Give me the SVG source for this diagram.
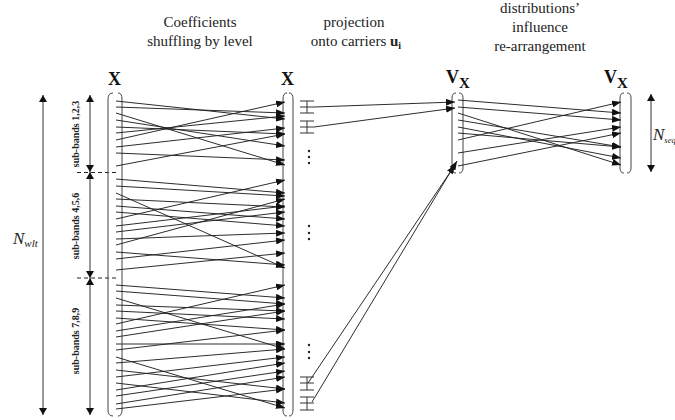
<svg xmlns="http://www.w3.org/2000/svg" width="675" height="420" viewBox="0 0 675 420">
<defs>
<marker id="ah" markerUnits="userSpaceOnUse" markerWidth="9" markerHeight="7" refX="9" refY="3.5" orient="auto"><path d="M0,0 L9,3.5 L0,7 z" fill="#111"/></marker>
<marker id="sa" markerUnits="userSpaceOnUse" markerWidth="7" markerHeight="8" refX="7" refY="4" orient="auto-start-reverse"><path d="M0,0 L7,4 L0,8 z" fill="#111"/></marker>
<style>
.t{font-family:"Liberation Serif","Times New Roman",serif;fill:#222;font-size:15px;text-anchor:middle}
.v{font-family:"Liberation Serif","Times New Roman",serif;font-weight:bold;fill:#111;font-size:18px}
.sb{font-family:"Liberation Serif","Times New Roman",serif;font-weight:bold;fill:#222;font-size:10px;text-anchor:middle}
.n{font-family:"Liberation Serif","Times New Roman",serif;font-style:italic;fill:#222;font-size:17px}
.br{fill:none;stroke:#444;stroke-width:1}
.ln{fill:none;stroke:#222;stroke-width:0.95;marker-end:url(#ah)}
.dim{fill:none;stroke:#333;stroke-width:1;marker-start:url(#sa);marker-end:url(#sa)}
.dash{stroke:#222;stroke-width:1;stroke-dasharray:4,3}
.ib{fill:none;stroke:#333;stroke-width:1}
</style>
</defs>
<rect width="675" height="420" fill="#fff"/>

<g id="titles">
<text class="t" x="200" y="27">Coefficients</text>
<text class="t" x="200" y="46">shuffling by level</text>
<text class="t" x="354" y="27">projection</text>
<text class="t" x="356" y="46">onto carriers <tspan font-weight="bold">u</tspan><tspan font-weight="bold" font-size="10" dy="3">i</tspan></text>
<text class="t" x="540" y="13">distributions’</text>
<text class="t" x="540" y="32">influence</text>
<text class="t" x="540" y="51">re-arrangement</text>
</g>

<g id="dimensions">
<path class="dim" d="M43,95 V415"/>
<text class="n" x="13" y="244">N<tspan font-size="11" dy="3">wlt</tspan></text>
<path class="dim" d="M90,95 V172"/>
<path class="dim" d="M90,172 V278"/>
<path class="dim" d="M90,278 V415"/>
<line class="dash" x1="77" y1="172.5" x2="116" y2="172.5"/>
<line class="dash" x1="77" y1="278" x2="116" y2="278"/>
<text class="sb" transform="translate(79,134) rotate(-90)">sub-bands 1,2,3</text>
<text class="sb" transform="translate(79,226) rotate(-90)">sub-bands 4,5,6</text>
<text class="sb" transform="translate(79,341) rotate(-90)">sub-bands 7,8,9</text>
<path class="dim" d="M651,94 V172"/>
<text class="n" x="653" y="140" font-size="15">N<tspan font-size="8.5" dy="3">seq</tspan></text>
</g>

<g id="x-left">
<text class="v" x="108" y="85">X</text>
<path class="br" d="M113,93 Q108,93 108,99 V410 Q108,416 113,416 M118,93 Q122,93 122,99 V410 Q122,416 118,416"/>
</g>

<g id="x-right">
<text class="v" x="281" y="85">X</text>
<path class="br" d="M287,93 Q283,93 283,99 V410 Q283,416 287,416 M289,93 Q293,93 293,99 V410 Q293,416 289,416"/>
</g>

<g id="carriers">
<path class="ib" d="M300,101 H314 M300,107 H314 M300,113 H314 M307,101 V113"/>
<path class="ib" d="M300,121 H314 M300,127 H314 M300,133 H314 M307,121 V133"/>
<path class="ib" d="M300,377 H314 M300,383 H314 M300,390 H314 M307,377 V390"/>
<path class="ib" d="M300,397 H314 M300,403 H314 M300,410 H314 M307,397 V410"/>
<g fill="#222">
<circle cx="309" cy="151" r="1.2"/><circle cx="309" cy="157" r="1.2"/><circle cx="309" cy="163" r="1.2"/>
<circle cx="309" cy="226" r="1.2"/><circle cx="309" cy="233" r="1.2"/><circle cx="309" cy="239" r="1.2"/>
<circle cx="309" cy="345" r="1.2"/><circle cx="309" cy="352" r="1.2"/><circle cx="309" cy="358" r="1.2"/>
</g>
</g>

<g id="vx-left">
<text class="v" x="446" y="83">V<tspan font-size="15" dy="5">X</tspan></text>
<path class="br" d="M456,93 Q452,93 452,98 V168 Q452,173 456,173 M459,93 Q463,93 463,98 V168 Q463,173 459,173"/>
</g>

<g id="vx-right">
<text class="v" x="604" y="83">V<tspan font-size="15" dy="5">X</tspan></text>
<path class="br" d="M624,93 Q620,93 620,98 V168 Q620,173 624,173 M627,93 Q631,93 631,98 V168 Q631,173 627,173"/>
</g>

<g id="connectors">
<path class="ln" d="M116,101 L285,119"/>
<path class="ln" d="M116,107 L285,113"/>
<path class="ln" d="M116,113 L285,165"/>
<path class="ln" d="M116,120 L285,146"/>
<path class="ln" d="M116,127 L285,134"/>
<path class="ln" d="M116,133 L285,116"/>
<path class="ln" d="M116,140 L285,102"/>
<path class="ln" d="M116,147 L285,128"/>
<path class="ln" d="M116,153 L285,160"/>
<path class="ln" d="M116,166 L285,134"/>

<path class="ln" d="M116,179 L285,193"/>
<path class="ln" d="M116,186 L285,196"/>
<path class="ln" d="M116,193 L285,268"/>
<path class="ln" d="M116,199 L285,207"/>
<path class="ln" d="M116,206 L285,219"/>
<path class="ln" d="M116,212 L285,226"/>
<path class="ln" d="M116,219 L285,180"/>
<path class="ln" d="M116,226 L285,206"/>
<path class="ln" d="M116,232 L285,212"/>
<path class="ln" d="M116,239 L285,233"/>
<path class="ln" d="M116,245 L285,199"/>
<path class="ln" d="M116,252 L285,265"/>
<path class="ln" d="M116,259 L285,240"/>
<path class="ln" d="M116,270 L285,253"/>

<path class="ln" d="M116,285 L285,298"/>
<path class="ln" d="M116,291 L285,304"/>
<path class="ln" d="M116,298 L285,349"/>
<path class="ln" d="M116,305 L285,311"/>
<path class="ln" d="M116,311 L285,319"/>
<path class="ln" d="M116,318 L285,330"/>
<path class="ln" d="M116,324 L285,285"/>
<path class="ln" d="M116,331 L285,304"/>
<path class="ln" d="M116,337 L285,311"/>
<path class="ln" d="M116,344 L285,344"/>
<path class="ln" d="M116,350 L285,330"/>
<path class="ln" d="M116,357 L285,408"/>
<path class="ln" d="M116,363 L285,349"/>
<path class="ln" d="M116,370 L285,389"/>
<path class="ln" d="M116,377 L285,357"/>
<path class="ln" d="M116,383 L285,403"/>
<path class="ln" d="M116,390 L285,363"/>
<path class="ln" d="M116,396 L285,371"/>
<path class="ln" d="M116,404 L285,377"/>
<path class="ln" d="M116,409 L285,389"/>

<path class="ln" d="M314,107 L455,102"/>
<path class="ln" d="M314,127 L455,108"/>
<path class="ln" d="M308,383 L455,165"/>
<path class="ln" d="M312,402 L457,161"/>

<path class="ln" d="M458,100 L621,113"/>
<path class="ln" d="M458,107 L621,120"/>
<path class="ln" d="M458,113 L621,165"/>
<path class="ln" d="M458,120 L621,147"/>
<path class="ln" d="M458,127 L621,158"/>
<path class="ln" d="M458,133 L621,147"/>
<path class="ln" d="M458,140 L621,102"/>
<path class="ln" d="M458,153 L621,127"/>
<path class="ln" d="M458,166 L621,133"/>
</g>
</svg>
